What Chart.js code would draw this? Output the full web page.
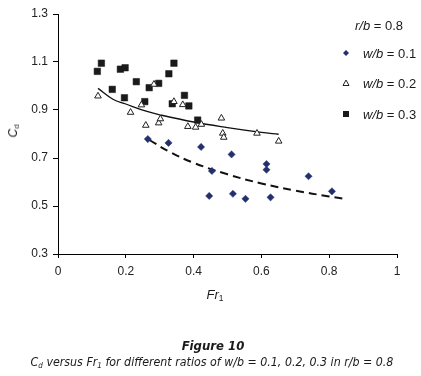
<!DOCTYPE html>
<html><head><meta charset="utf-8">
<script src="https://cdn.jsdelivr.net/npm/chart.js@4/dist/chart.umd.min.js"></script>
<style>
html,body{margin:0;padding:0;background:#fff;}
#wrap{position:relative;width:421px;height:376px;overflow:hidden;font-family:"Liberation Sans",Arial,sans-serif;color:#1a1a1a;}
#c{position:absolute;left:0;top:0;}
.t{position:absolute;white-space:nowrap;transform:translate(-50%,-50%);line-height:1;}
.lg{position:absolute;white-space:nowrap;font-size:13px;line-height:1;transform:translateY(-50%);}
.lg i{font-style:italic;}
sub{font-size:65%;vertical-align:-0.3em;line-height:0;}
.cap{font-family:"Liberation Sans Narrow","DejaVu Sans Condensed","Liberation Sans",sans-serif;font-style:italic;}
</style></head><body>
<div id="wrap">
<canvas id="c" width="421" height="376"></canvas>
<div class="t" style="left:13px;top:131px;font-size:12px;transform:translate(-50%,-50%) rotate(-90deg);"><i>C</i><sub>d</sub></div>
<div class="t" style="left:215px;top:294px;font-size:13px;"><i>Fr</i><sub>1</sub></div>
<div class="lg" style="left:355px;top:25px;"><i>r/b</i> = 0.8</div>
<svg style="position:absolute;left:340px;top:47px" width="12" height="12"><polygon points="6,3 9,6 6,9 3,6" fill="#23306e"/></svg>
<div class="lg" style="left:363px;top:53px;"><i>w/b</i> = 0.1</div>
<svg style="position:absolute;left:340px;top:77px" width="12" height="12"><polygon points="6,3 9,8.5 3,8.5" fill="#fff" stroke="#222" stroke-width="1"/></svg>
<div class="lg" style="left:363px;top:83px;"><i>w/b</i> = 0.2</div>
<svg style="position:absolute;left:340px;top:108px" width="12" height="12"><rect x="3" y="3" width="6" height="6" fill="#1a1a1a"/></svg>
<div class="lg" style="left:363px;top:114px;"><i>w/b</i> = 0.3</div>
<div class="t cap" style="left:213px;top:345px;font-size:13px;font-weight:bold;">Figure 10</div>
<div class="t cap" style="left:212px;top:362px;font-size:12.3px;"><i>C</i><sub>d</sub> versus Fr<sub>1</sub> for different ratios of w/b = 0.1, 0.2, 0.3 in r/b = 0.8</div>
</div>
<script>
const xTicks = [0, 0.2, 0.4, 0.6, 0.8, 1];
const yTicks = [0.3, 0.5, 0.7, 0.9, 1.1, 1.3];

const wb01X = [0.265, 0.326, 0.422, 0.454, 0.446, 0.512, 0.516, 0.553, 0.615, 0.615, 0.627, 0.739, 0.808];
const wb01Y = [0.779, 0.763, 0.746, 0.646, 0.542, 0.715, 0.551, 0.530, 0.675, 0.651, 0.536, 0.624, 0.561];

const wb02X = [0.118, 0.214, 0.246, 0.259, 0.283, 0.297, 0.302, 0.342, 0.368, 0.383, 0.406, 0.423, 0.482, 0.486, 0.489, 0.587, 0.651];
const wb02Y = [0.958, 0.890, 0.921, 0.836, 1.007, 0.846, 0.863, 0.935, 0.922, 0.831, 0.828, 0.840, 0.866, 0.803, 0.786, 0.803, 0.770];

const wb03X = [0.116, 0.128, 0.160, 0.184, 0.198, 0.196, 0.231, 0.256, 0.269, 0.297, 0.327, 0.342, 0.337, 0.373, 0.386, 0.412];
const wb03Y = [1.061, 1.095, 0.986, 1.070, 1.076, 0.951, 1.018, 0.935, 0.993, 1.011, 1.051, 1.095, 0.926, 0.961, 0.917, 0.858];

const trend01X = [0.27, 0.33, 0.40, 0.50, 0.60, 0.70, 0.80, 0.851];
const trend01Y = [0.775, 0.725, 0.680, 0.632, 0.594, 0.564, 0.540, 0.529];

const trend02X = [0.118, 0.162, 0.20, 0.26, 0.30, 0.40, 0.50, 0.60, 0.651];
const trend02Y = [0.990, 0.945, 0.925, 0.895, 0.880, 0.850, 0.827, 0.807, 0.799];

const pts = (xs, ys) => xs.map((x, i) => ({x: x, y: ys[i]}));

new Chart(document.getElementById('c'), {
  type: 'scatter',
  data: {
    datasets: [
      {label: 'w/b = 0.1', data: pts(wb01X, wb01Y), pointStyle: 'rectRot', pointRadius: 3.6,
       backgroundColor: '#23306e', borderColor: '#23306e', borderWidth: 0.5, order: 1},
      {label: 'w/b = 0.2', data: pts(wb02X, wb02Y), pointStyle: 'triangle', pointRadius: 3.8,
       backgroundColor: '#ffffff', borderColor: '#222', borderWidth: 1, order: 1},
      {label: 'w/b = 0.3', data: pts(wb03X, wb03Y), pointStyle: 'rect', pointRadius: 4.6,
       backgroundColor: '#1a1a1a', borderColor: '#1a1a1a', borderWidth: 0.5, order: 1},
      {label: 'trend 0.1', type: 'line', data: pts(trend01X, trend01Y), showLine: true, pointRadius: 0,
       borderColor: '#111', borderWidth: 2, borderDash: [8, 5], tension: 0.4, fill: false, order: 2},
      {label: 'trend 0.2', type: 'line', data: pts(trend02X, trend02Y), showLine: true, pointRadius: 0,
       borderColor: '#111', borderWidth: 1.3, tension: 0.4, fill: false, order: 2}
    ]
  },
  options: {
    responsive: false,
    animation: false,
    events: [],
    layout: {padding: {left: 0, top: 14, right: 24, bottom: 0}},
    plugins: {legend: {display: false}, tooltip: {enabled: false}, title: {display: false}},
    scales: {
      x: {
        type: 'linear', min: 0, max: 1,
        afterBuildTicks: s => { s.ticks = xTicks.map(v => ({value: v})); },
        afterFit: s => { s.height = 122; },
        grid: {drawOnChartArea: false, drawTicks: true, tickLength: 4, color: '#000', lineWidth: 1},
        border: {display: true, color: '#000', width: 1},
        ticks: {color: '#222', font: {family: 'Liberation Sans', size: 12}, padding: 6,
                callback: v => String(v), maxRotation: 0, autoSkip: false}
      },
      y: {
        type: 'linear', min: 0.3, max: 1.3,
        afterBuildTicks: s => { s.ticks = yTicks.map(v => ({value: v})); },
        afterFit: s => { s.width = 58; },
        grid: {drawOnChartArea: false, drawTicks: true, tickLength: 5, color: '#000', lineWidth: 1},
        border: {display: true, color: '#000', width: 1},
        ticks: {color: '#222', font: {family: 'Liberation Sans', size: 12}, padding: 5,
                callback: v => v.toFixed(1), autoSkip: false}
      }
    }
  }
});
</script>
</body></html>
